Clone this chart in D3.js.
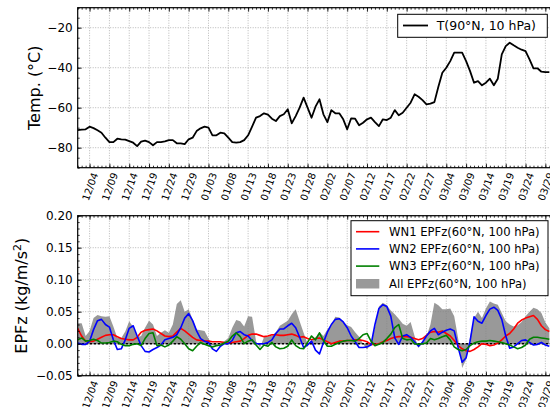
<!DOCTYPE html>
<html>
<head>
<meta charset="utf-8">
<script src="https://cdn.jsdelivr.net/npm/d3@7"></script>
<style>
  body { margin: 0; background: #fff; }
  svg { display: block; font-family: "DejaVu Sans", sans-serif; }
</style>
</head>
<body>
<svg id="chart"></svg>
<script>
// daily values, 1 Dec 2018 .. 30 Mar 2019
const tempPole = [
  -71.2,-71.0,-70.8,-69.5,-70.2,-71.3,-72.5,-75.0,-77.2,-77.2,
  -75.5,-75.8,-76.0,-76.7,-77.5,-79.2,-77.0,-76.5,-77.2,-78.8,
  -77.2,-77.2,-76.8,-76.2,-76.2,-77.8,-77.8,-78.2,-75.8,-75.0,
  -71.7,-70.3,-69.5,-70.0,-73.8,-73.8,-72.5,-72.8,-75.0,-77.2,
  -77.5,-77.2,-76.2,-73.8,-69.5,-65.0,-64.2,-62.8,-63.5,-65.5,
  -66.7,-64.2,-63.3,-60.8,-67.8,-64.2,-60.0,-55.0,-60.0,-65.0,
  -59.5,-55.8,-63.3,-67.2,-61.2,-62.8,-62.8,-65.8,-70.8,-65.3,
  -65.5,-68.8,-67.5,-65.8,-65.0,-67.2,-69.2,-65.8,-66.2,-65.0,
  -61.2,-63.8,-62.5,-60.0,-57.5,-53.3,-54.5,-56.2,-58.3,-58.0,
  -57.2,-49.5,-42.5,-40.0,-36.7,-32.5,-32.5,-32.5,-36.7,-41.7,
  -47.5,-46.7,-48.8,-47.5,-45.5,-48.8,-45.5,-33.3,-29.2,-27.5,
  -28.8,-30.0,-31.0,-31.7,-35.8,-40.3,-40.3,-42.0,-42.2,-42.2
];
const wn1 = [
  0.024,0.012,0.004,0.003,0.004,0.007,0.010,0.013,0.014,0.014,
  0.011,0.008,0.007,0.006,0.006,0.010,0.018,0.021,0.022,0.023,
  0.020,0.016,0.012,0.011,0.012,0.018,0.024,0.020,0.015,0.010,
  0.006,0.005,0.004,0.004,0.003,0.003,0.003,0.002,0.001,0.002,
  0.003,0.004,0.008,0.013,0.015,0.015,0.013,0.011,0.012,0.014,
  0.014,0.013,0.013,0.014,0.015,0.013,0.010,0.011,0.008,0.006,
  0.008,0.009,0.006,0.003,0.000,0.002,0.004,0.004,0.005,0.005,
  0.006,0.006,0.005,0.003,-0.001,-0.001,0.000,0.003,0.005,0.008,
  0.010,0.011,0.011,0.011,0.010,0.008,0.006,0.008,0.013,0.018,
  0.019,0.018,0.020,0.016,0.012,0.005,-0.003,-0.008,-0.011,-0.012,
  -0.009,-0.005,0.000,-0.001,-0.003,-0.002,0.001,0.006,0.012,0.016,
  0.023,0.032,0.037,0.040,0.042,0.044,0.038,0.028,0.022,0.019
];
const wn2 = [
  0.001,-0.001,-0.001,0.004,0.022,0.036,0.038,0.030,0.026,0.006,
  -0.009,-0.008,0.006,0.024,0.028,0.012,-0.003,-0.012,-0.013,-0.009,
  -0.006,-0.002,0.006,0.008,0.010,0.014,0.025,0.040,0.047,0.036,
  0.020,0.008,0.004,0.002,-0.008,-0.012,-0.004,0.000,0.000,0.005,
  0.017,0.019,0.014,0.012,0.005,0.000,0.000,0.000,0.002,0.006,
  0.016,0.023,0.023,0.028,0.032,0.025,0.010,-0.006,-0.002,0.004,
  -0.010,-0.016,0.002,0.018,0.030,0.038,0.039,0.034,0.025,0.012,
  0.003,-0.006,-0.006,-0.005,-0.002,0.030,0.055,0.061,0.058,0.043,
  0.009,-0.001,0.012,0.014,0.010,0.003,-0.004,0.002,0.012,0.020,
  0.024,0.014,0.018,0.021,0.023,0.020,-0.006,-0.029,-0.022,0.004,
  0.042,0.035,0.032,0.044,0.054,0.057,0.052,0.038,0.012,-0.007,
  -0.005,0.000,0.005,0.006,0.002,-0.002,-0.001,0.002,-0.002,-0.004
];
const wn3 = [
  0.006,0.009,0.004,0.005,0.007,0.005,0.001,0.001,0.002,0.004,
  0.003,-0.001,-0.003,-0.003,-0.001,0.000,-0.003,0.008,0.016,0.017,
  -0.003,-0.002,-0.005,-0.002,0.004,0.011,0.007,0.000,-0.008,-0.011,
  -0.004,0.002,-0.001,-0.003,-0.005,-0.003,-0.002,0.001,0.004,0.012,
  0.017,0.011,0.000,0.004,0.006,-0.002,-0.009,-0.002,-0.004,0.002,
  -0.005,-0.008,-0.007,-0.004,0.006,-0.003,-0.007,-0.008,0.002,0.012,
  0.006,0.017,0.005,-0.004,-0.004,-0.001,0.002,0.004,0.005,0.005,
  0.004,0.008,0.014,0.016,0.004,-0.003,-0.001,0.002,0.008,0.015,
  0.025,0.030,0.008,0.006,0.007,0.000,-0.001,0.000,0.001,0.008,
  0.006,0.008,0.011,0.013,0.006,-0.005,-0.009,-0.011,-0.009,-0.003,
  0.001,0.003,0.004,0.004,0.005,0.004,0.003,0.002,0.000,-0.002,
  -0.005,-0.008,-0.006,-0.002,0.007,0.010,0.010,0.009,0.008,0.007
];
const allEpfz = [
  0.032,0.032,0.012,0.020,0.040,0.045,0.043,0.042,0.043,0.027,
  0.009,0.009,0.019,0.035,0.026,0.010,0.012,0.025,0.036,0.030,
  0.012,0.017,0.021,0.017,0.030,0.062,0.068,0.050,0.054,0.038,
  0.022,0.021,0.020,0.008,-0.003,-0.002,0.002,0.004,0.009,0.025,
  0.037,0.035,0.027,0.043,0.042,0.004,-0.006,0.010,0.011,0.013,
  0.018,0.028,0.032,0.036,0.046,0.054,0.035,0.017,0.000,0.004,
  0.010,0.018,0.012,0.022,0.030,0.042,0.041,0.034,0.029,0.026,
  0.018,0.011,0.000,-0.009,0.000,0.025,0.058,0.064,0.060,0.052,
  0.046,0.039,0.031,0.028,0.034,0.012,-0.007,0.005,0.011,0.030,
  0.064,0.060,0.054,0.054,0.055,0.043,0.008,-0.038,-0.025,0.010,
  0.040,0.050,0.040,0.055,0.066,0.063,0.061,0.048,0.035,0.030,
  0.027,0.029,0.034,0.043,0.050,0.056,0.054,0.048,0.033,0.024
];
const tempTicks = [-80, -60, -40, -20];
const epfzTicks = [-0.05, 0.00, 0.05, 0.10, 0.15, 0.20];
const wnLabels = ["WN1 EPFz(60°N, 100 hPa)", "WN2 EPFz(60°N, 100 hPa)", "WN3 EPFz(60°N, 100 hPa)"];
const wnColors = ["#ff0000", "#0000ff", "#008000"];

const width = 550, height = 407;
const left = 77.7, right = 553.3;

const svg = d3.select("#chart")
  .attr("width", width)
  .attr("height", height)
  .attr("viewBox", [0, 0, width, height]);

const start = new Date(Date.UTC(2018, 11, 1));
const end = new Date(Date.UTC(2019, 2, 31));
const x = d3.scaleUtc().domain([start, end]).range([left, right]);
const dayOf = i => d3.utcDay.offset(start, i);
const majorDates = d3.utcDay.range(new Date(Date.UTC(2018, 11, 4)), end, 5);
const minorDates = d3.utcDay.range(start, end);
const fmt = d3.utcFormat("%m/%d");
const minus = s => s.replace("-", "\u2212");

function panel(top, bottom, domain, majors, minorStep, tickFmt, id) {
  const y = d3.scaleLinear().domain(domain).range([bottom, top]);
  const g = svg.append("g");

  svg.append("clipPath").attr("id", id)
    .append("rect").attr("x", left).attr("y", top)
    .attr("width", right - left).attr("height", bottom - top);

  // grid
  g.append("g").selectAll("line").data(majorDates).join("line")
    .attr("x1", d => x(d)).attr("x2", d => x(d))
    .attr("y1", top).attr("y2", bottom)
    .attr("stroke", "#b0b0b0").attr("stroke-width", 0.9)
    .attr("stroke-dasharray", "1,1.5");
  g.append("g").selectAll("line").data(majors).join("line")
    .attr("x1", left).attr("x2", right)
    .attr("y1", d => y(d)).attr("y2", d => y(d))
    .attr("stroke", "#b0b0b0").attr("stroke-width", 0.9)
    .attr("stroke-dasharray", "1,1.5");

  const plot = g.append("g").attr("clip-path", `url(#${id})`);

  // ticks
  const minorY = d3.range(domain[0], domain[1] + 1e-9, minorStep);
  const axes = g.append("g");
  axes.append("g").attr("transform", `translate(0,${bottom})`)
    .call(d3.axisBottom(x).tickValues(minorDates).tickSize(-2).tickFormat(""));
  axes.append("g").attr("transform", `translate(0,${top})`)
    .call(d3.axisTop(x).tickValues(minorDates).tickSize(-2).tickFormat(""));
  axes.append("g").attr("transform", `translate(0,${top})`)
    .call(d3.axisTop(x).tickValues(majorDates).tickSize(-4).tickFormat(""));
  axes.append("g").attr("transform", `translate(${left},0)`)
    .call(d3.axisLeft(y).tickValues(minorY).tickSize(-2).tickFormat(""));
  axes.append("g").attr("transform", `translate(${left},0)`)
    .call(d3.axisLeft(y).tickValues(majors).tickSize(-4).tickPadding(5).tickFormat(tickFmt))
    .call(a => a.selectAll("text").attr("font-size", 12).attr("fill", "#000")
      .attr("font-family", "DejaVu Sans"));

  const xb = axes.append("g").attr("transform", `translate(0,${bottom})`)
    .call(d3.axisBottom(x).tickValues(majorDates).tickSize(-4).tickFormat(fmt));
  xb.selectAll("text")
    .attr("font-size", 10).attr("font-family", "DejaVu Sans").attr("fill", "#000")
    .attr("text-anchor", "middle").attr("dominant-baseline", "central")
    .attr("y", null).attr("dy", null)
    .attr("transform", "translate(0,19) rotate(-70)");
  axes.selectAll(".domain").remove();
  axes.selectAll("line").attr("stroke", "#000").attr("stroke-width", 0.8);

  // frame
  g.append("rect").attr("x", left).attr("y", top)
    .attr("width", right - left).attr("height", bottom - top)
    .attr("fill", "none").attr("stroke", "#000").attr("stroke-width", 1.2);

  return { y, plot, g };
}

// top panel: temperature
const tp = panel(7.7, 167.7, [-90, -10], tempTicks, 5, d => minus(d3.format("d")(d)), "clipTop");
tp.plot.append("path")
  .datum(tempPole)
  .attr("d", d3.line().x((d, i) => x(dayOf(i))).y(d => tp.y(d)))
  .attr("fill", "none").attr("stroke", "#000").attr("stroke-width", 1.8)
  .attr("stroke-linejoin", "round");

svg.append("text")
  .attr("transform", "translate(39.5,87.7) rotate(-90)")
  .attr("text-anchor", "middle").attr("font-size", 16)
  .text("Temp. (°C)");

// top legend
const lg1 = svg.append("g");
lg1.append("rect").attr("x", 397.7).attr("y", 14.3).attr("width", 149.6).attr("height", 23)
  .attr("fill", "#fff").attr("stroke", "#000").attr("stroke-width", 1);
lg1.append("line").attr("x1", 403).attr("x2", 428).attr("y1", 25.5).attr("y2", 25.5)
  .attr("stroke", "#000").attr("stroke-width", 1.8);
lg1.append("text").attr("x", 436.7).attr("y", 29.9).attr("font-size", 12.5)
  .text("T(90°N, 10 hPa)");

// bottom panel: EPFz
const bp = panel(215.7, 375.7, [-0.05, 0.20], epfzTicks, 0.01, d => minus(d3.format(".2f")(d)), "clipBot");
bp.plot.append("path")
  .datum(allEpfz)
  .attr("d", d3.area().x((d, i) => x(dayOf(i))).y0(bp.y(0)).y1(d => bp.y(d)))
  .attr("fill", "#808080").attr("fill-opacity", 0.8).attr("stroke", "none");
bp.plot.append("line")
  .attr("x1", left).attr("x2", right).attr("y1", bp.y(0)).attr("y2", bp.y(0))
  .attr("stroke", "#000").attr("stroke-width", 1.5).attr("stroke-dasharray", "2.5,1.5");
[wn1, wn2, wn3].forEach((series, k) => {
  bp.plot.append("path")
    .datum(series)
    .attr("d", d3.line().x((d, i) => x(dayOf(i))).y(d => bp.y(d)))
    .attr("fill", "none").attr("stroke", wnColors[k]).attr("stroke-width", 1.6)
    .attr("stroke-linejoin", "round");
});

svg.append("text")
  .attr("transform", "translate(27,295.7) rotate(-90)")
  .attr("text-anchor", "middle").attr("font-size", 16)
  .call(t => {
    t.append("tspan").text("EPFz (kg/m/s");
    t.append("tspan").attr("font-size", 11).attr("dy", -6).text("2");
    t.append("tspan").attr("dy", 6).text(")");
  });

// bottom legend
const lg2 = svg.append("g");
lg2.append("rect").attr("x", 351).attr("y", 220.7).attr("width", 197).attr("height", 75)
  .attr("fill", "#fff").attr("stroke", "#000").attr("stroke-width", 1);
wnLabels.forEach((lab, k) => {
  const yy = 231.7 + k * 17.2;
  lg2.append("line").attr("x1", 356).attr("x2", 379.3).attr("y1", yy).attr("y2", yy)
    .attr("stroke", wnColors[k]).attr("stroke-width", 1.6);
  lg2.append("text").attr("x", 389).attr("y", yy + 4.3).attr("font-size", 11.6).text(lab);
});
lg2.append("rect").attr("x", 356).attr("y", 279).attr("width", 23.3).attr("height", 9.5)
  .attr("fill", "#808080").attr("fill-opacity", 0.8);
lg2.append("text").attr("x", 389).attr("y", 231.7 + 3 * 17.2 + 4.3).attr("font-size", 11.6)
  .text("All EPFz(60°N, 100 hPa)");
</script>
</body>
</html>
